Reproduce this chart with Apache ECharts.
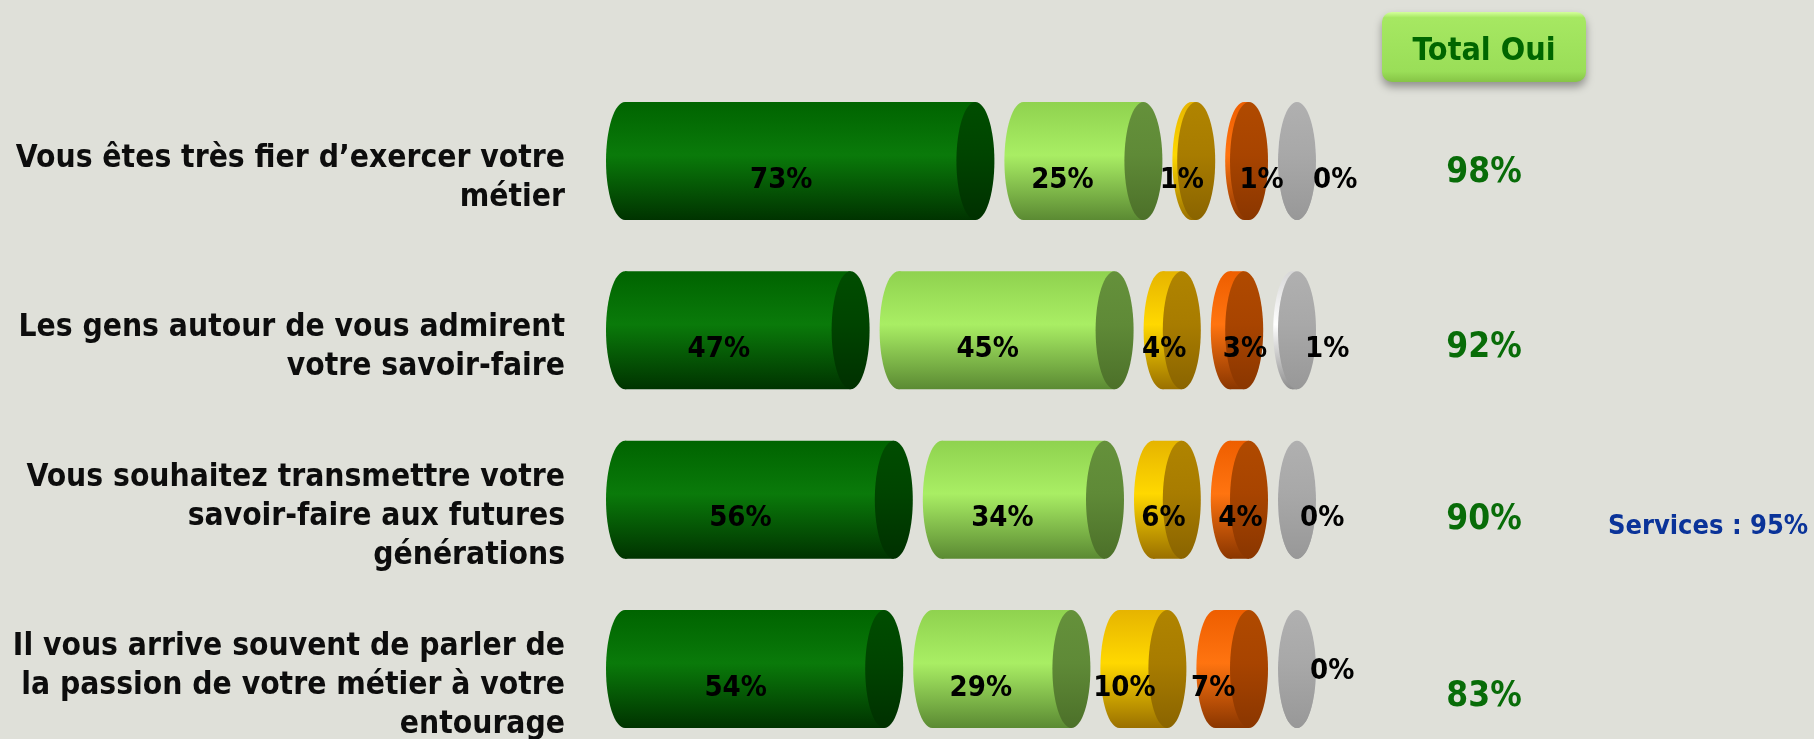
<!DOCTYPE html>
<html>
<head>
<meta charset="utf-8">
<script src="https://cdn.jsdelivr.net/npm/echarts@6/dist/echarts.min.js"></script>
<style>
html,body{margin:0;padding:0;background:#dfe0d9;}
#chart{width:1814px;height:739px;}
</style>
</head>
<body>
<div id="chart"></div>
<script>
// ---- data ----
const categories = [
  "Vous êtes très fier d’exercer votre\nmétier",
  "Les gens autour de vous admirent\nvotre savoir-faire",
  "Vous souhaitez transmettre votre\nsavoir-faire aux futures\ngénérations",
  "Il vous arrive souvent de parler de\nla passion de votre métier à votre\nentourage"
];
const darkGreen  = [73, 47, 56, 54];
const lightGreen = [25, 45, 34, 29];
const yellow     = [1, 4, 6, 10];
const orange     = [1, 3, 4, 7];
const grey       = [0, 1, 0, 0];
const totalOui   = [98, 92, 90, 83];
const headerText = "Total Oui";
const noteText   = "Services : 95%";

// ---- styles ----
const FONT = '"DejaVu Sans Condensed", "DejaVu Sans", Verdana, sans-serif';
const RX = 19, RY = 59, GAP = 10, BAR_DY = -17;
const TOTAL_DY = [-5, 1, 3, 11];
const LABEL_DY = 2;
// label nudges (px) per row, per segment, as placed in the original picture
const LABEL_NUDGE = [
  [0, -2, 7, 34, -3],
  [0, 0, 11, 27, -11],
  [0, -2, 15, 20, -16],
  [0, -2, 0, 0, -6]
];
const segments = [darkGreen, lightGreen, yellow, orange, grey];
const segStyles = [
  {body: ['#006400', '#0a7a0a', '#003300'], cap: ['#004d00', '#004400', '#003000']},
  {body: ['#8fd24f', '#a9ee64', '#5b8a33'], cap: ['#65913b', '#5f8a37', '#4c7029']},
  {body: ['#e6b400', '#ffd800', '#9a7000'], cap: ['#b08400', '#a87c00', '#8a6400']},
  {body: ['#ee5e00', '#ff7410', '#8a3600'], cap: ['#b04a00', '#a84400', '#8a3600']},
  {body: ['#d8d8d8', '#ffffff', '#8e8e8e'], cap: ['#b0b0b0', '#a8a8a8', '#989898']}
];
function grad(c){
  return new echarts.graphic.LinearGradient(0,0,0,1,[
    {offset:0, color:c[0]},{offset:0.45, color:c[1]},{offset:1, color:c[2]}
  ]);
}

const chart = echarts.init(document.getElementById('chart'), null, {renderer:'canvas'});

const series = segments.map((vals, s) => {
  const data = vals.map((v, row) => {
    let cum = 0;
    for (let k = 0; k < s; k++) cum += segments[k][row];
    return [cum, v, row];
  });
  return {
    type: 'custom',
    clip: false,
    encode: {x: [0, 1], y: 2},
    data: data,
    renderItem: function(params, api){
      const cum = api.value(0), val = api.value(1), row = api.value(2);
      const p0 = api.coord([cum, row]);
      const p1 = api.coord([cum + val, row]);
      const shift = s * (2 * RX + GAP);
      const x0 = p0[0] + shift;
      const x1 = p1[0] + shift + 2 * RX;
      const cy = p0[1] + BAR_DY;
      const st = segStyles[s];
      const children = [
        {type:'ellipse', shape:{cx:x0+RX, cy:cy, rx:RX, ry:RY}, style:{fill:grad(st.body)}},
        {type:'rect', shape:{x:x0+RX, y:cy-RY, width:Math.max(0, x1-x0-2*RX), height:2*RY}, style:{fill:grad(st.body)}},
        {type:'ellipse', shape:{cx:x1-RX, cy:cy, rx:RX, ry:RY}, style:{fill:grad(st.cap)}}
      ];
      const nudge = LABEL_NUDGE[row][s];
      let lx, ly = p0[1] + LABEL_DY, align = 'center';
      if (s === 4) {
        lx = x1 + nudge; align = 'left';
        if (row === 3) ly += BAR_DY;
      } else {
        lx = (x0 + x1 - 2 * RX) / 2 + nudge;
      }
      children.push({
        type:'text', z2:100, x:lx, y:ly,
        style:{text: val + '%', fill:'#000', font:'bold 29px ' + FONT, align:align, verticalAlign:'middle'}
      });
      return {type:'group', children:children};
    }
  };
});

series.push({
  type:'custom',
  clip:false,
  encode:{x:0, y:1},
  data: totalOui.map((v, row) => [0, row, v]),
  renderItem: function(params, api){
    const row = api.value(1);
    const p = api.coord([0, row]);
    return {
      type:'text', x:1484, y:p[1] + TOTAL_DY[row],
      style:{text: api.value(2) + '%', fill:'#086c08', font:'bold 35px ' + FONT, align:'center', verticalAlign:'middle'}
    };
  }
});

chart.setOption({
  backgroundColor:'#dfe0d9',
  animation:false,
  grid:{left:606, right:728, top:178, bottom:53, outerBoundsMode:'none', containLabel:false},
  xAxis:{type:'value', min:0, max:100, show:false},
  yAxis:{
    type:'category', data:categories, inverse:true, boundaryGap:false,
    axisLine:{show:false}, axisTick:{show:false}, splitLine:{show:false},
    axisLabel:{interval:0, margin:41, color:'#0d0d0d', fontSize:31.5, fontWeight:'bold',
      fontFamily:FONT, lineHeight:39, align:'right', padding:[7,0,0,0]}
  },
  graphic:[
    {type:'rect', left:1382, top:12, shape:{width:204, height:70, r:10},
      style:{fill:new echarts.graphic.LinearGradient(0,0,0,1,[
        {offset:0, color:'#d4ff9c'},{offset:0.08, color:'#a6e862'},{offset:0.85, color:'#9ade58'},{offset:1, color:'#86c446'}]),
        shadowBlur:8, shadowOffsetY:5, shadowColor:'rgba(0,0,0,0.35)'}},
    {type:'text', x:1484, y:52, style:{text:headerText, fill:'#006600', font:'bold 32px ' + FONT, align:'center', verticalAlign:'middle'}},
    {type:'text', x:1608, y:527, style:{text:noteText, fill:'#0a3399', font:'bold 27px ' + FONT, align:'left', verticalAlign:'middle'}}
  ],
  series:series
});
</script>
</body>
</html>
